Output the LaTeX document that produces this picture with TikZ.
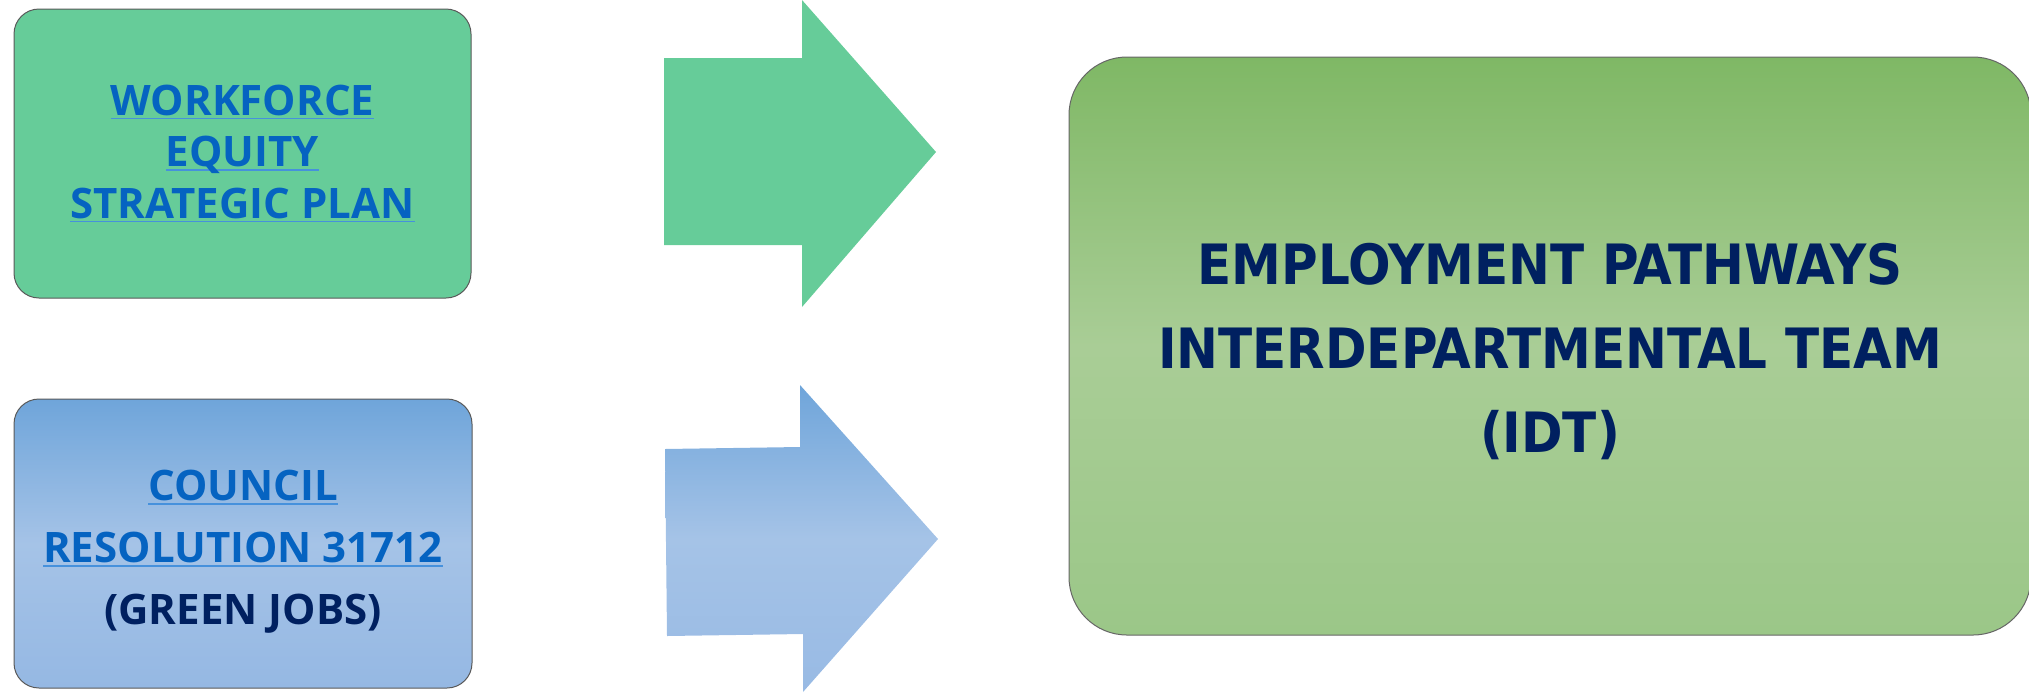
\documentclass[tikz,border=0pt]{standalone}
\usepackage{fontspec}
\setmainfont{Open Sans}
\newfontfamily\condfont{DejaVu Sans Condensed}

\definecolor{linkblue}{RGB}{5,99,193}
\definecolor{linkrule}{RGB}{70,145,220}
\definecolor{navy}{RGB}{0,32,96}
\definecolor{seagreen}{RGB}{102,204,153}

% underlined link text
\newcommand{\lnk}[1]{\setbox0\hbox{#1}\rlap{\color{linkrule}\rule[-2.2pt]{\wd0}{0.9pt}}\box0}

\begin{document}
\begin{tikzpicture}[x=0.5pt,y=-0.5pt,
	box/.style={draw=black!65,line width=0.5pt,rounded corners=12.5pt,align=center},
	small/.style={font={\fontsize{21}{25.75}\selectfont\bfseries},text=linkblue}]

	\useasboundingbox (0,0) rectangle (2029,692);

	\node[box,small,fill=seagreen,minimum width=228.5pt,minimum height=144.5pt] (plan) at (242.5,153.5)
		{\lnk{WORKFORCE}\\\lnk{EQUITY}\\\lnk{STRATEGIC PLAN}};

	\node[box,small,font={\fontsize{21}{31}\selectfont\bfseries},top color={rgb,255:red,111;green,165;blue,218},bottom color={rgb,255:red,149;green,184;blue,227},middle color={rgb,255:red,165;green,195;blue,231},minimum width=229pt,minimum height=144.5pt] (council) at (243,543.5)
		{\rule{0pt}{23pt}\lnk{COUNCIL}\\\lnk{RESOLUTION 31712}\\\textcolor{navy}{(GREEN JOBS)}};

	\node[box,draw=black!60,rounded corners=29pt,font={\condfont\fontsize{27.8}{42}\selectfont\bfseries},text=navy,top color={rgb,255:red,127;green,184;blue,101},bottom color={rgb,255:red,155;green,199;blue,136},middle color={rgb,255:red,169;green,205;blue,150},minimum width=481pt,minimum height=289pt] (idt) at (1550,346)
		{\rule{0pt}{26pt}EMPLOYMENT PATHWAYS\\INTERDEPARTMENTAL TEAM\\(IDT)};

	% block arrows
	\fill[seagreen] (664,58) -- (802,58) -- (802,0) -- (936,152) -- (802,307) -- (802,245) -- (664,245) -- cycle;
	\shade[top color={rgb,255:red,111;green,165;blue,218},bottom color={rgb,255:red,152;green,186;blue,228},middle color={rgb,255:red,165;green,195;blue,231}]
		(665,449) -- (800,447) -- (800,385) -- (938,539) -- (803,692) -- (803,634) -- (667,636) -- cycle;
\end{tikzpicture}
\end{document}
